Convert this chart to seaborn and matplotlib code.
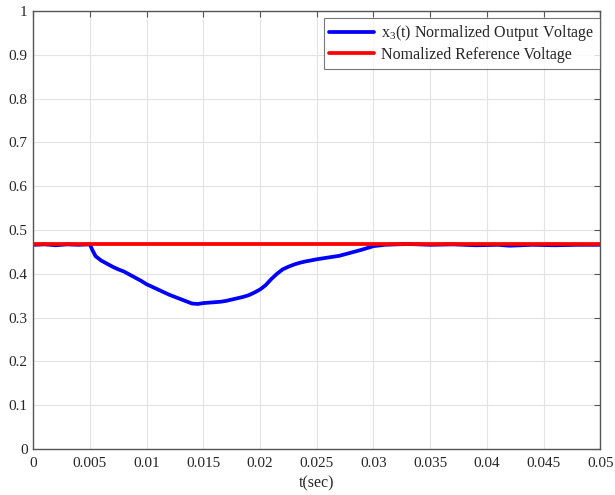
import matplotlib
matplotlib.use("Agg")
import matplotlib.pyplot as plt
import seaborn as sns
import pandas as pd

t_out = [0.0, 0.001, 0.002, 0.003, 0.004, 0.005, 0.0052, 0.0055, 0.006, 0.0065, 0.007, 0.0075,
         0.008, 0.0085, 0.009, 0.0095, 0.010, 0.0105, 0.011, 0.0115, 0.012, 0.0125, 0.013,
         0.0135, 0.014, 0.0145, 0.015, 0.0155, 0.016, 0.0165, 0.017, 0.0175, 0.018, 0.0185,
         0.019, 0.0195, 0.020, 0.0205, 0.021, 0.0215, 0.022, 0.0225, 0.023, 0.0235, 0.024,
         0.025, 0.026, 0.027, 0.028, 0.029, 0.030, 0.031, 0.032, 0.033, 0.035, 0.037, 0.039,
         0.041, 0.042, 0.044, 0.046, 0.048, 0.050]
v_out = [0.466, 0.467, 0.465, 0.467, 0.466, 0.467, 0.455, 0.440, 0.430, 0.423, 0.416, 0.410,
         0.405, 0.398, 0.391, 0.384, 0.376, 0.370, 0.364, 0.358, 0.352, 0.347, 0.342,
         0.337, 0.332, 0.331, 0.333, 0.334, 0.335, 0.336, 0.338, 0.341, 0.344, 0.347,
         0.351, 0.357, 0.364, 0.374, 0.388, 0.400, 0.410, 0.416, 0.421, 0.425, 0.428,
         0.433, 0.437, 0.441, 0.448, 0.455, 0.463, 0.466, 0.467, 0.468, 0.466, 0.467, 0.465,
         0.466, 0.464, 0.466, 0.465, 0.466, 0.466]
t_ref = [0.0, 0.05]
v_ref = [0.468, 0.468]

label_out = r"x$_3$(t) Normalized Output Voltage"
label_ref = "Nomalized Reference Voltage"

sns.set_style("white")
plt.rcParams["font.family"] = ["Liberation Serif", "DejaVu Serif"]
plt.rcParams["mathtext.fontset"] = "custom"
plt.rcParams["mathtext.rm"] = "Liberation Serif"
plt.rcParams["mathtext.it"] = "Liberation Serif"

df_out = pd.DataFrame({"t": t_out, "v": v_out})
df_ref = pd.DataFrame({"t": t_ref, "v": v_ref})

fig = plt.figure(figsize=(6.15, 4.95), dpi=100)
ax = fig.add_axes([0.054, 0.093, 0.922, 0.885])

sns.lineplot(data=df_out, x="t", y="v", ax=ax, color="#0000ff", lw=2.7, label=label_out)
sns.lineplot(data=df_ref, x="t", y="v", ax=ax, color="#ff0000", lw=2.7, label=label_ref)

ax.set_xlim(0, 0.05)
ax.set_ylim(0, 1)
ax.set_xticks([0, 0.005, 0.01, 0.015, 0.02, 0.025, 0.03, 0.035, 0.04, 0.045, 0.05])
ax.set_xticklabels(["0", "0.005", "0.01", "0.015", "0.02", "0.025", "0.03", "0.035", "0.04", "0.045", "0.05"])
ax.set_yticks([i / 10 for i in range(11)])
ax.set_yticklabels(["0", "0.1", "0.2", "0.3", "0.4", "0.5", "0.6", "0.7", "0.8", "0.9", "1"])
ax.grid(True, color="#e3e3e3", lw=0.8)
ax.tick_params(direction="in", length=4, top=True, right=True, labelsize=11, color="#555555", pad=4)
ax.tick_params(axis="x", pad=6)
for s in ax.spines.values():
    s.set_color("#555555")
    s.set_linewidth(1.0)
ax.set_xlabel("t(sec)", fontsize=11.5, labelpad=4)
ax.set_ylabel("")

leg = ax.legend(loc="upper right", bbox_to_anchor=(1.0, 0.984), fontsize=11.5, frameon=True,
                fancybox=False, handlelength=2.8, handletextpad=0.45,
                borderaxespad=0.0, labelspacing=0.22, borderpad=0.35)
leg.get_frame().set_edgecolor("#555555")
leg.get_frame().set_linewidth(0.8)

fig.savefig("out.png", dpi=100)
